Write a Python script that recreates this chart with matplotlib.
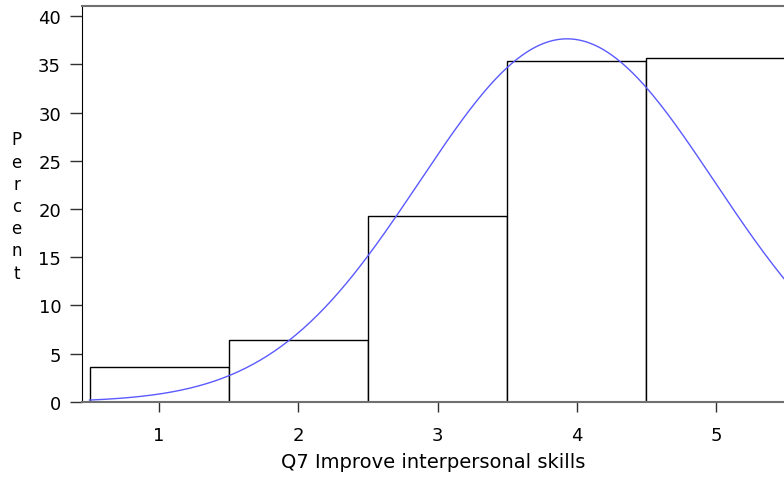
import matplotlib
matplotlib.use("Agg")
import matplotlib.pyplot as plt
import numpy as np

# histogram of Q7 responses (percent per category)
categories = [1, 2, 3, 4, 5]
percents = [3.63, 6.42, 19.27, 35.34, 35.65]
y_ticks = [0, 5, 10, 15, 20, 25, 30, 35, 40]

# fitted normal curve parameters
mu = 3.93
sigma = 1.06

fig = plt.figure(figsize=(7.84, 4.85), dpi=100)
ax = fig.add_axes([0.1046, 0.1691, 0.8954, 0.8165])

ax.bar(categories, percents, width=1.0, facecolor="white", edgecolor="black", linewidth=1.0, zorder=2)

xs = np.linspace(0.5, 5.6, 400)
curve = 100 * np.exp(-0.5 * ((xs - mu) / sigma) ** 2) / (sigma * np.sqrt(2 * np.pi))
ax.plot(xs, curve, color="#5a5aff", linewidth=1.0, zorder=3)

ax.set_xlim(0.446, 5.488)
ax.set_ylim(0, 41.04)
ax.set_xticks(categories)
ax.set_yticks(y_ticks)

for s in ["top", "bottom"]:
    ax.spines[s].set_color("#707070")
    ax.spines[s].set_linewidth(1.5)
ax.spines["left"].set_color("black")
ax.spines["right"].set_visible(False)

ax.tick_params(axis="x", length=7, width=1, color="#303030", pad=10, labelsize=13)
ax.tick_params(axis="y", length=9, width=1, color="#303030", pad=6, labelsize=13)

ax.set_xlabel("Q7 Improve interpersonal skills", fontsize=14, labelpad=6)
fig.text(0.021, 0.573, "P\ne\nr\nc\ne\nn\nt", fontsize=12, ha="center", va="center", linespacing=1.3)

fig.savefig("out.png", dpi=100)
